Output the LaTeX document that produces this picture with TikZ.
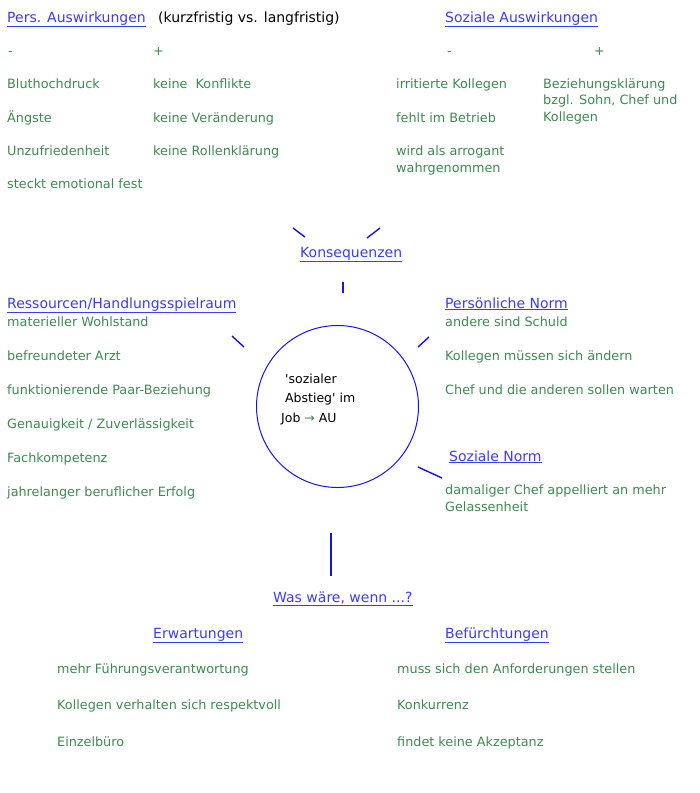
\documentclass[tikz,border=0pt]{standalone}
\usepackage{fontspec}
\setmainfont{DejaVu Sans}
\definecolor{headblue}{HTML}{3C3CF5}
\definecolor{itemgreen}{HTML}{3F8A50}
\definecolor{rayblue}{HTML}{1414E6}
\begin{document}
\begin{tikzpicture}[x=1pt,y=1pt]
		\tikzstyle{every node}+=[inner sep=0pt, anchor=base west, font=\fontsize{12.8}{16.5}\selectfont]
		\tikzstyle{head}=[text=headblue, font=\fontsize{14}{16.5}\selectfont]
		\tikzstyle{item}=[text=itemgreen, align=left]
		\tikzstyle{ray}=[draw=rayblue, line width=1.4pt]
		\useasboundingbox (0,0) rectangle (700,-793);
		% persoenliche Auswirkungen (base = letzte Zeile)
		\node [head] (persaus) at (7,-22) {\underline{Pers. Auswirkungen}};
		\node [font=\fontsize{14}{16.5}\selectfont] (persfrist) at (158,-22) {(kurzfristig vs. langfristig)};
		\node [item] (persminus) at (8,-55) {-};
		\node [item] (persplus) at (153,-55) {+};
		\node [item] (blut) at (7,-88) {Bluthochdruck};
		\node [item] (angst) at (7,-122) {Ängste};
		\node [item] (unzu) at (7,-155) {Unzufriedenheit};
		\node [item] (fest) at (7,-188) {steckt emotional fest};
		\node [item] (konfl) at (153,-88) {keine\ \ Konflikte};
		\node [item] (veraend) at (153,-122) {keine Veränderung};
		\node [item] (rolle) at (153,-155) {keine Rollenklärung};
		% soziale Auswirkungen
		\node [head] (sozaus) at (445,-22) {\underline{Soziale Auswirkungen}};
		\node [item] (sozminus) at (447,-55) {-};
		\node [item] (sozplus) at (594,-55) {+};
		\node [item] (irrit) at (396,-88) {irritierte Kollegen};
		\node [item] (fehlt) at (396,-122) {fehlt im Betrieb};
		\node [item] (arrog) at (396,-172) {wird als arrogant\\wahrgenommen};
		\node [item] (bezieh) at (543,-121) {Beziehungsklärung\\bzgl. Sohn, Chef und\\Kollegen};
		% Konsequenzen
		\node [head] (konseq) at (300,-257) {\underline{Konsequenzen}};
		% Ressourcen
		\node [head] (ressou) at (7,-308) {\underline{Ressourcen/Handlungsspielraum}};
		\node [item] (wohl) at (7,-326) {materieller Wohlstand};
		\node [item] (arzt) at (7,-360) {befreundeter Arzt};
		\node [item] (paar) at (7,-394) {funktionierende Paar-Beziehung};
		\node [item] (genau) at (7,-428) {Genauigkeit / Zuverlässigkeit};
		\node [item] (fach) at (7,-462) {Fachkompetenz};
		\node [item] (erfolg) at (7,-496) {jahrelanger beruflicher Erfolg};
		% persoenliche Norm
		\node [head] (persnorm) at (445,-308) {\underline{Persönliche Norm}};
		\node [item] (schuld) at (445,-326) {andere sind Schuld};
		\node [item] (aendern) at (445,-360) {Kollegen müssen sich ändern};
		\node [item] (warten) at (445,-394) {Chef und die anderen sollen warten};
		% soziale Norm
		\node [head] (soznorm) at (449,-461) {\underline{Soziale Norm}};
		\node [item] (gelass) at (445,-511) {damaliger Chef appelliert an mehr\\Gelassenheit};
		% Mitte
		\node [circle, draw=rayblue, line width=1pt, minimum size=162pt, anchor=center] (abstieg) at (337.5,-406.5) {};
		\node [align=left, font=\fontsize{12.5}{19.5}\selectfont] (abstxt) at (281,-422) {\ \textquotesingle sozialer\\\ Abstieg\textquotesingle\ im\\Job {\color{itemgreen}→} AU};
		% Strahlen
		\draw [ray] (293,-228) -- (305,-237);
		\draw [ray] (380,-228) -- (367,-238);
		\draw [ray] (343,-282) -- (343,-293);
		\draw [ray] (232,-336) -- (244,-347);
		\draw [ray] (418,-347) -- (429,-337);
		\draw [ray] (418,-467) -- (442,-478);
		\draw [ray] (331,-533) -- (331,-576);
		% Was waere, wenn
		\node [head] (waswenn) at (273,-602) {\underline{Was wäre, wenn ...?}};
		\node [head] (erwart) at (153,-638) {\underline{Erwartungen}};
		\node [head] (befuer) at (445,-638) {\underline{Befürchtungen}};
		\node [item] (fuehr) at (57,-673) {mehr Führungsverantwortung};
		\node [item] (respekt) at (57,-709) {Kollegen verhalten sich respektvoll};
		\node [item] (buero) at (57,-746) {Einzelbüro};
		\node [item] (anford) at (397,-673) {muss sich den Anforderungen stellen};
		\node [item] (konkur) at (397,-709) {Konkurrenz};
		\node [item] (akzept) at (397,-746) {findet keine Akzeptanz};
	\end{tikzpicture}
\end{document}
